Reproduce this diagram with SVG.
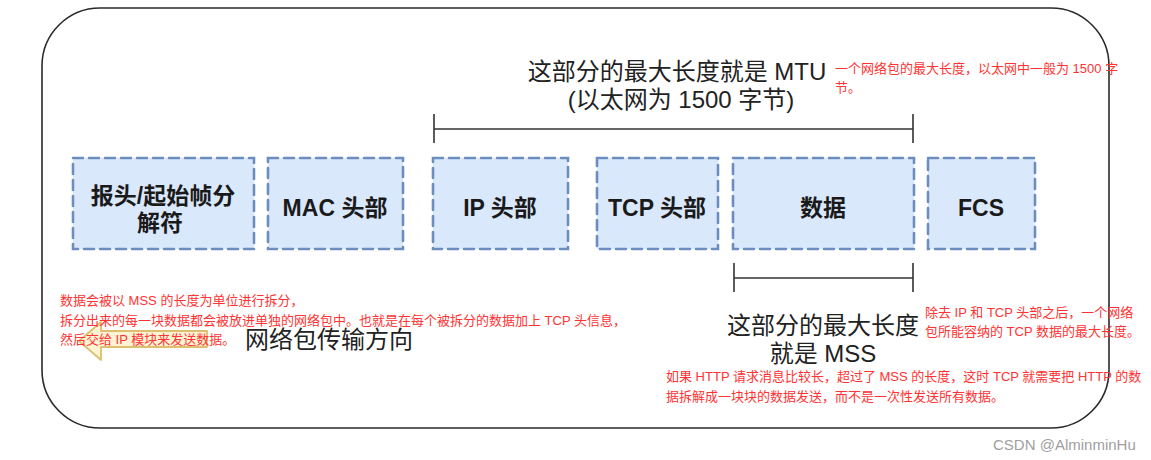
<svg xmlns="http://www.w3.org/2000/svg" width="1151" height="460" viewBox="0 0 1151 460">
<style>
.box{fill:#dae8fc;stroke:#6c8ebf;stroke-width:2.6;stroke-dasharray:10 6;stroke-linecap:round}
.bt{font-family:"Liberation Sans","Noto Sans CJK SC",sans-serif;font-weight:bold;font-size:23px;fill:#1a1a1a;text-anchor:middle}
.gt{font-family:"Liberation Sans","Noto Sans CJK SC",sans-serif;font-size:24px;fill:#222}
.rt{font-family:"Liberation Sans","Noto Sans CJK SC",sans-serif;font-size:13px;fill:#ff3333}
.br{stroke:#333;stroke-width:1.6;fill:none}
</style>
<rect width="1151" height="460" fill="#ffffff"/>
<rect id="frame" x="42" y="8" width="1067" height="420" rx="58" ry="58" fill="none" stroke="#2a2a2a" stroke-width="1.6"/>

<g id="connectors">
  <g id="mtu-bracket">
    <line class="br" x1="434" y1="129" x2="913" y2="129"/>
    <line class="br" x1="434" y1="114" x2="434" y2="143"/>
    <line class="br" x1="913" y1="114" x2="913" y2="143"/>
  </g>
  <g id="mss-bracket">
    <line class="br" x1="734" y1="278" x2="913" y2="278"/>
    <line class="br" x1="734" y1="263" x2="734" y2="292"/>
    <line class="br" x1="913" y1="263" x2="913" y2="292"/>
  </g>
</g>

<g id="preamble">
  <rect class="box" x="73" y="158" width="181" height="91"/>
  <text class="bt" x="163" y="204">报头/起始帧分</text>
  <text class="bt" x="160" y="231">解符</text>
</g>
<g id="mac">
  <rect class="box" x="268" y="158" width="135" height="91"/>
  <text class="bt" x="335" y="216">MAC 头部</text>
</g>
<g id="ip">
  <rect class="box" x="433" y="158" width="135" height="91"/>
  <text class="bt" x="500" y="216">IP 头部</text>
</g>
<g id="tcp">
  <rect class="box" x="597" y="158" width="121" height="91"/>
  <text class="bt" x="657" y="216">TCP 头部</text>
</g>
<g id="data">
  <rect class="box" x="733" y="158" width="181" height="91"/>
  <text class="bt" x="823" y="216">数据</text>
</g>
<g id="fcs">
  <rect class="box" x="928" y="158" width="107" height="91"/>
  <text class="bt" x="981" y="216">FCS</text>
</g>

<g id="mtu-label">
  <text class="gt" x="677" y="80" text-anchor="middle">这部分的最大长度就是 MTU</text>
  <text class="gt" x="681" y="108" text-anchor="middle">(以太网为 1500 字节)</text>
</g>
<g id="mss-label">
  <text class="gt" x="823" y="334" text-anchor="middle">这部分的最大长度</text>
  <text class="gt" x="823" y="362" text-anchor="middle">就是 MSS</text>
</g>

<g id="direction-arrow">
  <path d="M79,341 L101,322 L101,331 L207,331 L207,347 L101,347 L101,360 Z" fill="#fff2cc" stroke="#d6b656" stroke-width="1.8" stroke-linejoin="round" opacity="0.85"/>
  <text class="gt" x="245" y="348">网络包传输方向</text>
</g>

<g id="notes">
  <text class="rt" x="835" y="73">一个网络包的最大长度，以太网中一般为 1500 字</text>
  <text class="rt" x="835" y="92">节。</text>
  <text class="rt" x="60" y="305">数据会被以 MSS 的长度为单位进行拆分，</text>
  <text class="rt" x="60" y="325">拆分出来的每一块数据都会被放进单独的网络包中。也就是在每个被拆分的数据加上 TCP 头信息，</text>
  <text class="rt" x="60" y="344">然后交给 IP 模块来发送数据。</text>
  <text class="rt" x="925" y="317">除去 IP 和 TCP 头部之后，一个网络</text>
  <text class="rt" x="925" y="336">包所能容纳的 TCP 数据的最大长度。</text>
  <text class="rt" x="666" y="381">如果 HTTP 请求消息比较长，超过了 MSS 的长度，这时 TCP 就需要把 HTTP 的数</text>
  <text class="rt" x="666" y="401">据拆解成一块块的数据发送，而不是一次性发送所有数据。</text>
</g>

<text id="watermark" x="993" y="450" font-family="Liberation Sans, sans-serif" font-size="15" fill="#a0a0a0">CSDN @AlminminHu</text>
</svg>
